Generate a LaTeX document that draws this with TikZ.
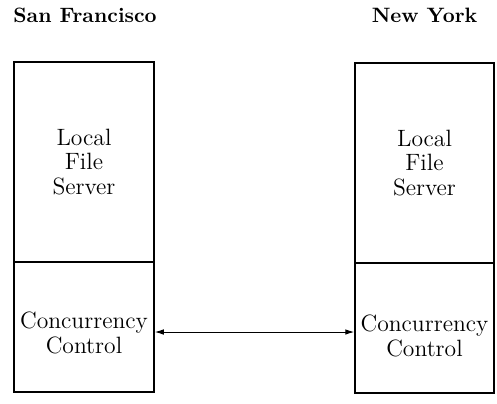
\documentclass[tikz,border=0pt]{standalone}
\usetikzlibrary{arrows.meta}
\begin{document}
\begin{tikzpicture}[x=0.5pt,y=-0.5pt,
  site/.style={font=\fontsize{10.4}{12}\selectfont\bfseries, inner sep=0pt},
  part/.style={draw, line width=0.75pt, inner sep=0pt, align=center,
    font=\fontsize{11.8}{12.2}\selectfont},
  label/.style={align=center, inner sep=0pt, font=\fontsize{11.8}{12.6}\selectfont},
  link/.style={{Latex[length=4.5pt,width=2.8pt]}-{Latex[length=4.5pt,width=2.8pt]}, line width=0.5pt}]
\useasboundingbox (0,0) rectangle (497,403);
% site names
\node[site] (sf) at (85,15) {San Francisco};
\node[site] (ny) at (424.5,15) {New York};
% San Francisco stack
\node[part, minimum width=70pt, minimum height=100pt] (lfs) at (84,162) {Local\\File\\Server};
\node[part, minimum width=70pt, minimum height=65pt] (lcc) at (84,327) {};
\node[label] (lcct) at (84,333) {Concurrency\\Control};
% New York stack
\node[part, minimum width=69.5pt, minimum height=100pt] (rfs) at (424.5,163) {Local\\File\\Server};
\node[part, minimum width=69.5pt, minimum height=65pt] (rcc) at (424.5,328) {};
\node[label] (rcct) at (424.5,336) {Concurrency\\Control};
% link between the concurrency controllers
\coordinate (la) at (lcc.east |- 0,332);
\coordinate (ra) at (rcc.west |- 0,332);
\draw[link] (la) -- (ra);
\end{tikzpicture}
\end{document}
